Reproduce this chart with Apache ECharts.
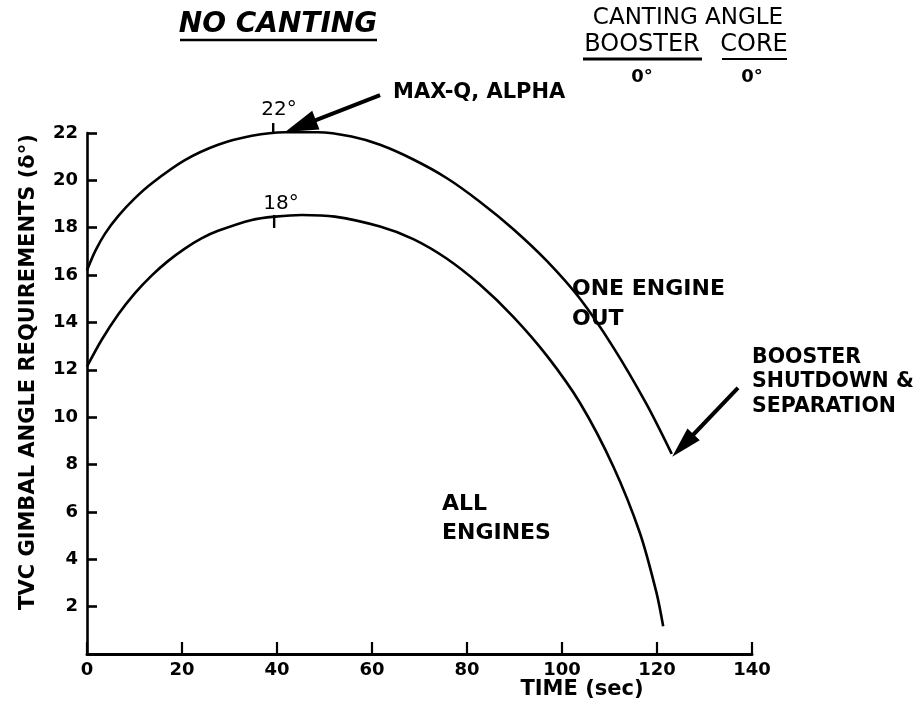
<!DOCTYPE html>
<html>
<head>
<meta charset="utf-8">
<script src="https://cdn.jsdelivr.net/npm/echarts@6/dist/echarts.min.js"></script>
<style>
  html, body { margin: 0; padding: 0; background: #fff; }
  #chart { width: 919px; height: 715px; }
</style>
</head>
<body>
<div id="chart"></div>
<script>
  // time (sec) vs gimbal angle (deg)
  const oneEngineOut = [
    [0, 16.2], [1.7, 17.0], [3.8, 17.75], [6.6, 18.5], [10.1, 19.25],
    [13.6, 19.87], [20.6, 20.85], [27.6, 21.5], [34.7, 21.88], [41.6, 22.03],
    [48.6, 22.03], [55.7, 21.85], [61.7, 21.5], [68.7, 20.88], [75.7, 20.1],
    [82.7, 19.1], [89.7, 17.95], [96.8, 16.6], [103.8, 15.0], [110.8, 12.95],
    [117.8, 10.55], [123.1, 8.45]
  ]
  const allEngines = [
    [0, 12.14], [3.1, 13.27], [6.6, 14.35], [10.1, 15.24], [13.6, 15.98],
    [17.1, 16.6], [20.6, 17.12], [24.1, 17.55], [27.6, 17.87], [34.7, 18.33],
    [39.6, 18.47], [45.2, 18.54], [52.2, 18.47], [61.7, 18.05], [68.7, 17.52],
    [75.7, 16.7], [82.7, 15.6], [89.7, 14.25], [96.8, 12.6], [103.8, 10.6],
    [110.8, 7.92], [116.4, 5.11], [119.9, 2.58], [121.3, 1.17]
  ]
  // small tick marks at the peaks
  const peakTicks = [
    { from: [39.2, 22.0], to: [39.2, 22.42] },
    { from: [39.4, 18.54], to: [39.4, 17.99] }
  ]
  // arrows: tail -> tip, in data coords
  const arrows = [
    { from: [61.7, 23.6], to: [41.7, 22.04], len: 33, half: 10 },
    { from: [137.05, 11.24], to: [123.2, 8.33], len: 31, half: 8.5 }
  ]

  const FONT = 'DejaVu Sans'
  const chart = echarts.init(document.getElementById('chart'))

  chart.setOption({
    animation: false,
    backgroundColor: '#fff',
    grid: { left: 87, right: 167, top: 133, bottom: 61 },
    xAxis: {
      type: 'value',
      min: 0,
      max: 140,
      interval: 20,
      axisLine: { lineStyle: { color: '#000', width: 3 } },
      axisTick: { inside: true, length: 12, lineStyle: { color: '#000', width: 2.2 } },
      axisLabel: { color: '#000', fontFamily: FONT, fontWeight: 'bold', fontSize: 18, margin: 7 },
      splitLine: { show: false }
    },
    yAxis: {
      type: 'value',
      min: 0,
      max: 22,
      interval: 2,
      axisLine: { show: true, lineStyle: { color: '#000', width: 2.6 } },
      axisTick: { show: true, inside: true, length: 10, lineStyle: { color: '#000', width: 2.6 } },
      axisLabel: {
        color: '#000', fontFamily: FONT, fontWeight: 'bold', fontSize: 18, margin: 9,
        formatter: v => (v === 0 ? '' : v)
      },
      splitLine: { show: false }
    },
    series: [
      {
        name: 'ONE ENGINE OUT',
        type: 'line',
        data: oneEngineOut,
        smooth: 0.3,
        showSymbol: false,
        clip: false,
        lineStyle: { color: '#000', width: 2.6 }
      },
      {
        name: 'ALL ENGINES',
        type: 'line',
        data: allEngines,
        smooth: 0.3,
        showSymbol: false,
        clip: false,
        lineStyle: { color: '#000', width: 2.6 }
      }
    ]
  })

  function px(p) {
    return chart.convertToPixel({ gridIndex: 0 }, p)
  }

  function txt(text, x, y, size, opts) {
    opts = opts || {}
    return {
      type: 'text',
      x: x,
      y: y,
      rotation: opts.rotation || 0,
      style: {
        text: text,
        fill: '#000',
        font: (opts.italic ? 'italic ' : '') + (opts.bold ? 'bold ' : '') + size + 'px "' + FONT + '"',
        textAlign: opts.align || 'left',
        textVerticalAlign: opts.valign || 'middle',
        lineHeight: opts.lineHeight
      }
    }
  }

  function seg(x1, y1, x2, y2, w) {
    return {
      type: 'line',
      shape: { x1: x1, y1: y1, x2: x2, y2: y2 },
      style: { stroke: '#000', lineWidth: w }
    }
  }

  const g = []

  // header
  g.push(txt('NO CANTING', 278, 25, 28, { bold: true, italic: true, align: 'center' }))
  g.push(seg(180, 40, 377, 40, 2.5))
  g.push(txt('CANTING ANGLE', 688, 18, 23, { align: 'center' }))
  g.push(txt('BOOSTER', 642, 45, 24, { align: 'center' }))
  g.push(txt('CORE', 754, 45, 24, { align: 'center' }))
  g.push(seg(583, 59, 702, 59, 3))
  g.push(seg(722, 59, 787, 59, 2))
  g.push(txt('0°', 642, 77, 18, { bold: true, align: 'center' }))
  g.push(txt('0°', 752, 77, 18, { bold: true, align: 'center' }))

  // axis titles
  g.push(txt('TVC GIMBAL ANGLE REQUIREMENTS (δ°)', 29, 372, 21, { bold: true, align: 'center', rotation: Math.PI / 2 }))
  g.push(txt('TIME (sec)', 582, 690, 21, { bold: true, align: 'center' }))

  // annotations
  g.push(txt('MAX-Q, ALPHA', 393, 93, 21, { bold: true }))
  g.push(txt('22°', 279, 110, 20, { align: 'center' }))
  g.push(txt('18°', 281, 204, 20, { align: 'center' }))
  g.push(txt('ONE ENGINE\nOUT', 572, 274, 22, { bold: true, valign: 'top', lineHeight: 30 }))
  g.push(txt('BOOSTER\nSHUTDOWN &\nSEPARATION', 752, 345, 20.5, { bold: true, valign: 'top', lineHeight: 24.5 }))
  g.push(txt('ALL\nENGINES', 442, 490, 22, { bold: true, valign: 'top', lineHeight: 29 }))

  peakTicks.forEach(t => {
    const a = px(t.from), b = px(t.to)
    g.push(seg(a[0], a[1], b[0], b[1], 2.4))
  })

  arrows.forEach(ar => {
    const tail = px(ar.from), tip = px(ar.to)
    let dx = tail[0] - tip[0], dy = tail[1] - tip[1]
    const d = Math.sqrt(dx * dx + dy * dy)
    dx /= d; dy /= d
    const bx = tip[0] + dx * ar.len, by = tip[1] + dy * ar.len
    const nx = -dy, ny = dx
    g.push(seg(tail[0], tail[1], bx - dx * 2, by - dy * 2, 4))
    g.push({
      type: 'polygon',
      shape: { points: [tip, [bx + nx * ar.half, by + ny * ar.half], [bx - nx * ar.half, by - ny * ar.half]] },
      style: { fill: '#000' }
    })
  })

  chart.setOption({ graphic: g })
</script>
</body>
</html>
